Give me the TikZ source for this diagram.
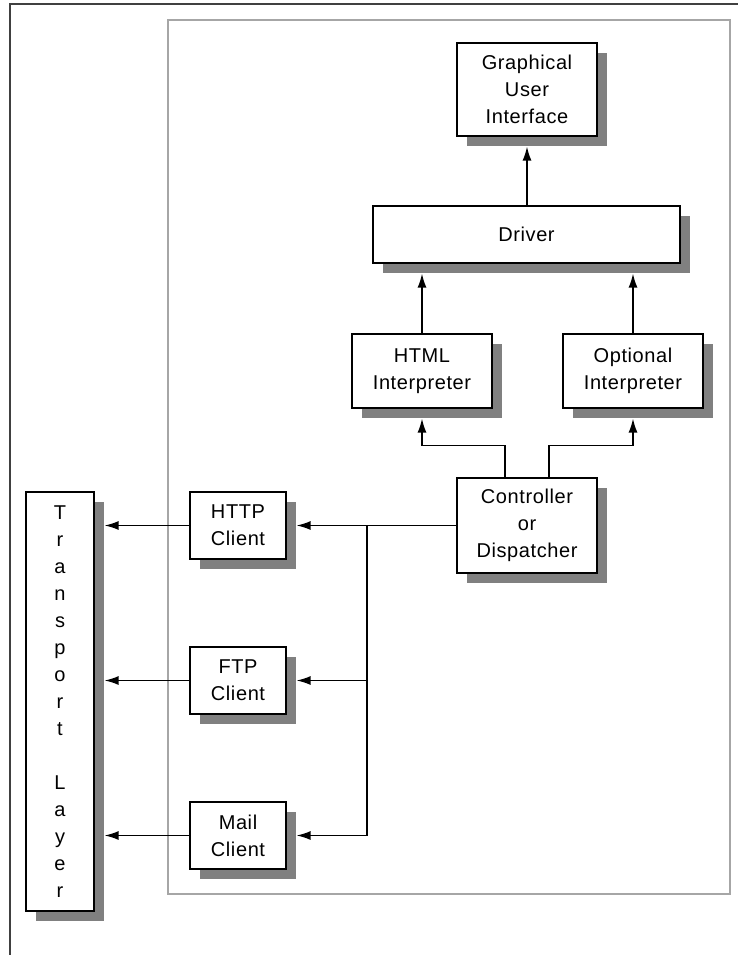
\documentclass[tikz,border=0pt]{standalone}
\usepackage{fontspec}
\setmainfont{Liberation Sans}[LetterSpace=3]
\usepackage{tikz}
\usetikzlibrary{positioning,arrows.meta,shadows}

\begin{document}
\begin{tikzpicture}[
  x=1pt, y=-1pt,
  box/.style={draw=black, line width=1.2pt, fill=white, inner sep=0pt, align=center,
              font=\fontsize{20}{27}\selectfont,
              drop shadow={shadow xshift=10pt, shadow yshift=-10pt, fill=black!50, opacity=1}},
  arr/.style={-{Latex[length=14pt,width=9pt]}, line width=1.5pt, shorten >=10pt},
  wire/.style={line width=1.5pt}
]
\useasboundingbox (0,0) rectangle (738,955);

%% --- Frames ---
\draw[black!75, line width=2pt] (10,955) -- (10,4) -- (738,4);
\draw[black!35, line width=1.5pt] (168,20) rectangle (730,894);

%% --- Browser components ---
\node[box, minimum width=140pt, minimum height=93pt] (gui) at (527,89.5)
  {Graphical\\User\\Interface};
\node[box, minimum width=307pt, minimum height=57pt] (drv) at (526.5,234.5) {Driver};
\node[box, minimum width=140pt, minimum height=74pt] (html) at (422,371)
  {HTML\\Interpreter};
\node[box, minimum width=140pt, minimum height=74pt] (opt) at (633,371)
  {Optional\\Interpreter};
\node[box, minimum width=140pt, minimum height=95pt] (ctrl) at (527,525.5)
  {Controller\\or\\Dispatcher};

%% --- Clients ---
\node[box, minimum width=96pt, minimum height=67pt] (http) at (238,525.5) {HTTP\\Client};
\node[box, minimum width=96pt, minimum height=67pt] (ftp)  at (238,680.5) {FTP\\Client};
\node[box, minimum width=96pt, minimum height=67pt] (mail) at (238,835.5) {Mail\\Client};

%% --- Transport layer ---
\node[box, minimum width=68pt, minimum height=419pt] (tl) at (60,701.5)
  {T\\r\\a\\n\\s\\p\\o\\r\\t\\[27pt]L\\a\\y\\e\\r};

%% --- Connectors ---
\draw[arr] (drv.north -| gui) -- (gui.south);
\draw[arr] (html.north) -- (html.north |- drv.south);
\draw[arr] (opt.north) -- (opt.north |- drv.south);
\draw[arr] ([xshift=-22pt]ctrl.north) -- ++(0,-32) -| (html.south);
\draw[arr] ([xshift=22pt]ctrl.north) -- ++(0,-32) -| (opt.south);

\coordinate (bus) at (367,0);
\draw[wire] (ctrl.west) -- (ctrl.west -| bus) -- (mail.east -| bus);
\draw[arr] (http.east -| bus) -- (http.east);
\draw[arr] (ftp.east -| bus)  -- (ftp.east);
\draw[arr] (mail.east -| bus) -- (mail.east);

\draw[arr] (http.west) -- (http.west -| tl.east);
\draw[arr] (ftp.west)  -- (ftp.west -| tl.east);
\draw[arr] (mail.west) -- (mail.west -| tl.east);
\end{tikzpicture}
\end{document}
